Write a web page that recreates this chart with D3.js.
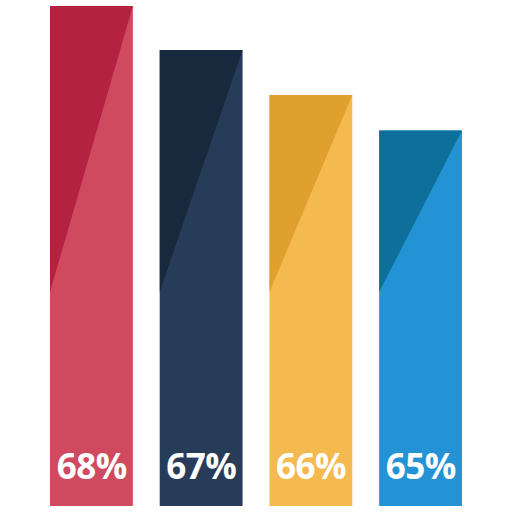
<!DOCTYPE html>
<html>
<head>
<meta charset="utf-8">
<script src="https://cdn.jsdelivr.net/npm/d3@7"></script>
<style>
  html, body { margin: 0; padding: 0; background: #fff; }
  svg { display: block; }
</style>
</head>
<body>
<script>
// ---- data ----
const categories = ["A", "B", "C", "D"];
const labels = ["68%", "67%", "66%", "65%"];
const barHeights = [100, 91.2, 82.2, 75.1];   // relative bar height (0-100)
const tipLevel = 42.8;                         // height where the dark wedge ends
const lightColors = ["#CF4A5E", "#273C59", "#F4B94F", "#2393D5"];
const darkColors  = ["#B3223F", "#172A3D", "#E0A02E", "#0F6F9B"];

const W = 512, H = 512;
const svg = d3.select("body").append("svg").attr("width", W).attr("height", H);

const x = d3.scaleBand().domain(categories).range([50, 462]).paddingInner(0.245).paddingOuter(0);
const y = d3.scaleLinear().domain([0, 100]).range([506, 6]);

const g = svg.selectAll("g.bar").data(categories).enter().append("g").attr("class", "bar");

g.append("rect")
  .attr("x", d => x(d))
  .attr("width", x.bandwidth())
  .attr("y", (d, i) => y(barHeights[i]))
  .attr("height", (d, i) => y(0) - y(barHeights[i]))
  .attr("fill", (d, i) => lightColors[i]);

g.append("path")
  .attr("d", (d, i) => {
    const x0 = x(d), x1 = x(d) + x.bandwidth();
    const top = y(barHeights[i]), tip = y(tipLevel);
    return `M${x0},${top}L${x1},${top}L${x0},${tip}Z`;
  })
  .attr("fill", (d, i) => darkColors[i]);

g.append("text")
  .attr("x", d => x(d) + x.bandwidth() / 2 + 0.25)
  .attr("y", 479)
  .attr("text-anchor", "middle")
  .attr("font-family", "'Open Sans', sans-serif")
  .attr("font-weight", 700)
  .attr("font-size", 35)
  .attr("letter-spacing", "-0.5px")
  .attr("fill", "#fff")
  .text((d, i) => labels[i]);
</script>
</body>
</html>
